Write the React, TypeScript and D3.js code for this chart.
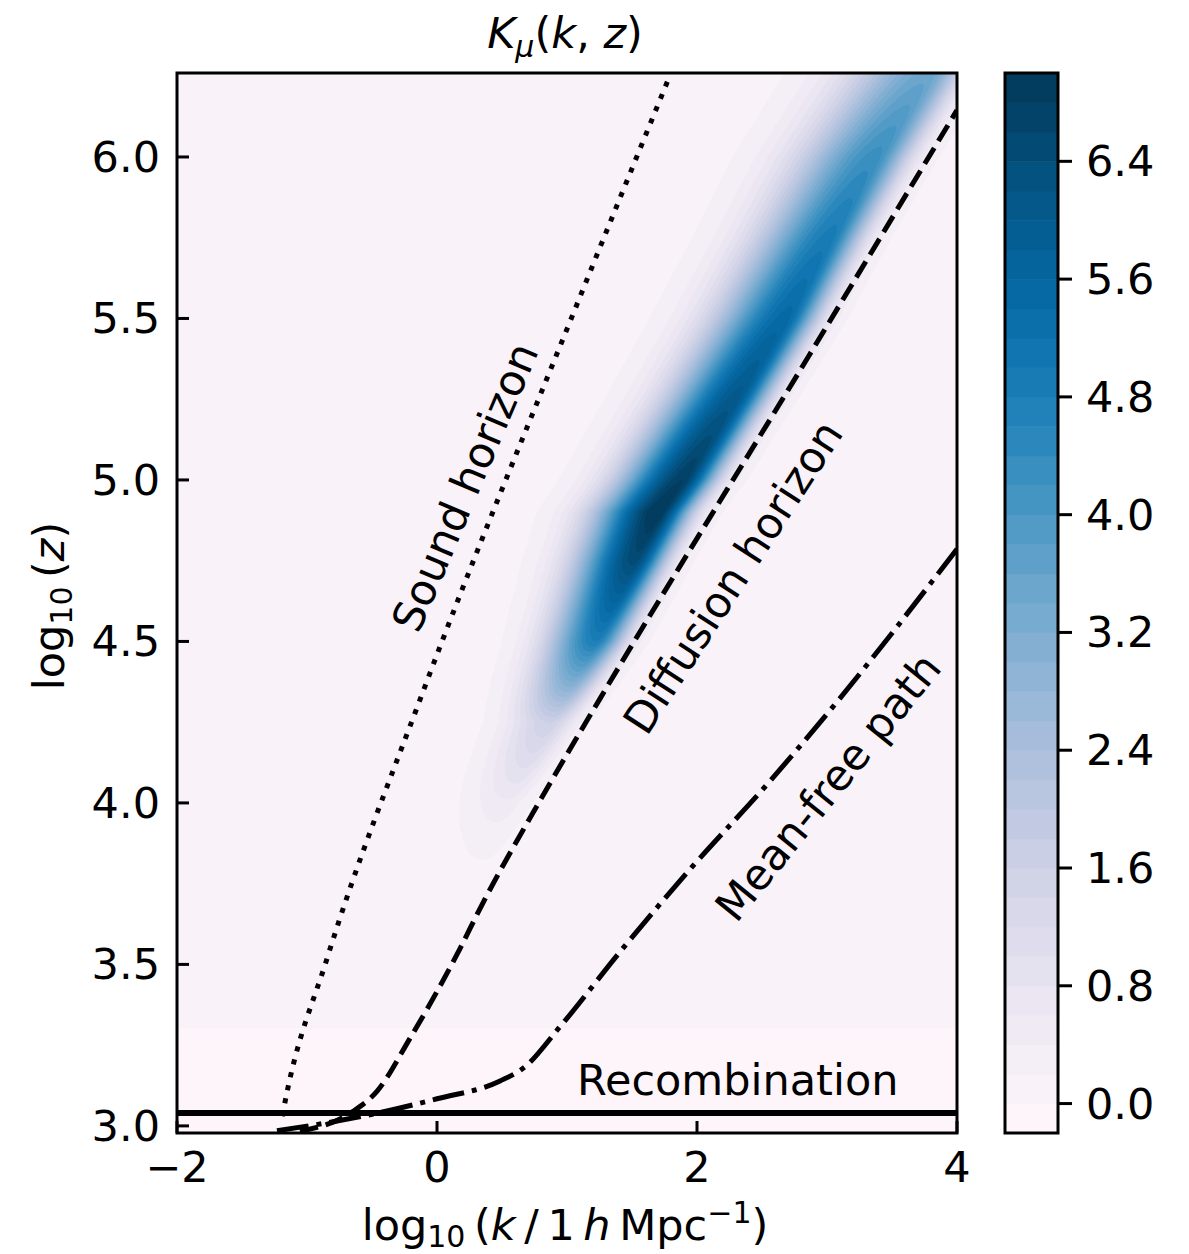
import { useMemo } from 'react';
import * as d3 from 'd3';

// ridge of K_mu(k, z), read along log10(z)
const ridgeZ = [3.75, 3.9, 4.0, 4.25, 4.5, 4.75, 4.9, 5.0, 5.25, 5.5, 5.75, 6.0, 6.26];
const ridgeK = [0.3, 0.42, 0.52, 0.87, 1.22, 1.52, 1.7, 1.89, 2.29, 2.68, 3.02, 3.37, 3.79];
const ridgePeak = [0.0, 0.2, 0.45, 1.5, 4.7, 6.4, 6.95, 6.7, 6.0, 5.4, 4.8, 4.2, 3.4];
const ridgeLeft = [0.18, 0.19, 0.2, 0.22, 0.26, 0.3, 0.32, 0.33, 0.35, 0.37, 0.38, 0.4, 0.42];
const ridgeRight = [0.12, 0.12, 0.12, 0.13, 0.15, 0.16, 0.17, 0.17, 0.17, 0.17, 0.17, 0.18, 0.18];
const bgAbove = 0.1;
const bgBelow = -0.1;
const negBelowZ = 3.3;
const recombZ = 3.04;

// horizons
const soundK = [-1.19, -1.169, -0.846, -0.108, 1.077, 1.777];
const soundZ = [3.03, 3.074, 3.518, 4.344, 5.544, 6.238];
const diffK = [-1.054, -0.646, -0.462, -0.208, 0.177, 0.331, 0.815, 1.254, 2.869, 4.0];
const diffZ = [2.983, 3.045, 3.107, 3.271, 3.549, 3.673, 4.023, 4.323, 5.39, 6.145];
const mfpK = [-1.231, -0.769, -0.385, 0.0, 0.485, 0.677, 0.946, 1.408, 1.969, 2.523, 3.077, 4.0];
const mfpZ = [2.985, 3.015, 3.046, 3.084, 3.139, 3.183, 3.307, 3.539, 3.805, 4.05, 4.313, 4.786];

const xTicks = [-2, 0, 2, 4];
const yTicks = [3.0, 3.5, 4.0, 4.5, 5.0, 5.5, 6.0];
const cbTicks = [0.0, 0.8, 1.6, 2.4, 3.2, 4.0, 4.8, 5.6, 6.4];
const levels = d3.range(37).map(i => +(-0.2 + 0.2 * i).toFixed(1));

const W = 1189, H = 1254;
const L = 177, R = 957, T = 73, B = 1133;
const CBL = 1005, CBR = 1058;
const FONT = 'DejaVu Sans';
const FS = 43;

export default function App() {
  const x = d3.scaleLinear().domain([-2, 4]).range([L, R]);
  const y = d3.scaleLinear().domain([2.978, 6.26]).range([B, T]);
  const cbY = d3.scaleLinear().domain([-0.2, 7.0]).range([B, T]);
  const lo = levels[0], hi = levels[levels.length - 1];
  const color = (i: number) => d3.interpolatePuBu(((levels[i] + levels[i + 1]) / 2 - lo) / (hi - lo));

  const bands = useMemo(() => {
    const nx = 260, ny = 354;
    const cw = (R - L) / nx, ch = (B - T) / ny;
    const cS = d3.scaleLinear().domain(ridgeZ).range(ridgeK).clamp(true);
    const pS = d3.scaleLinear().domain(ridgeZ).range(ridgePeak).clamp(true);
    const lS = d3.scaleLinear().domain(ridgeZ).range(ridgeLeft).clamp(true);
    const rS = d3.scaleLinear().domain(ridgeZ).range(ridgeRight).clamp(true);
    const values = new Float64Array(nx * ny);
    for (let j = 0; j < ny; j++) {
      const z = y.invert(T + (j + 0.5) * ch);
      const c = cS(z), p = pS(z), sl = lS(z), sr = rS(z);
      const bg = z < negBelowZ ? bgBelow : bgAbove;
      for (let i = 0; i < nx; i++) {
        const k = x.invert(L + (i + 0.5) * cw);
        const d = k - c;
        const s = d < 0 ? sl : sr;
        values[j * nx + i] = bg + p * Math.exp(-(d * d) / (2 * s * s));
      }
    }
    const contours = d3.contours().size([nx, ny]).thresholds(levels.slice(0, -1))(Array.from(values));
    const proj = d3.geoTransform({
      point(px: number, py: number) {
        (this as any).stream.point(L + px * cw, T + py * ch);
      },
    });
    const path = d3.geoPath(proj);
    return contours.map((c, i) => ({ d: path(c as any) || '', fill: color(i) }));
  }, []);

  const line = d3.line<[number, number]>().x(d => x(d[0])).y(d => y(d[1])).curve(d3.curveMonotoneX);
  const pts = (ks: number[], zs: number[]) => ks.map((k, i) => [k, zs[i]] as [number, number]);

  const it = { fontStyle: 'italic' } as const;

  return (
    <svg width={W} height={H} style={{ position: 'absolute', left: 0, top: 0, background: '#fff' }}
      fontFamily={FONT} fontSize={FS}>
      <defs>
        <clipPath id="plot-clip"><rect x={L} y={T} width={R - L} height={B - T} /></clipPath>
      </defs>

      <g clipPath="url(#plot-clip)">
        {bands.map((b, i) => <path key={i} d={b.d} fill={b.fill} stroke={b.fill} strokeWidth={0.4} />)}
        <path d={line(pts(soundK, soundZ)) || ''} fill="none" stroke="#000" strokeWidth={5} strokeDasharray="5 8.25" />
        <path d={line(pts(diffK, diffZ)) || ''} fill="none" stroke="#000" strokeWidth={5} strokeDasharray="18.5 8" />
        <path d={line(pts(mfpK, mfpZ)) || ''} fill="none" stroke="#000" strokeWidth={5} strokeDasharray="32 8 5 8" />
        <line x1={L} x2={R} y1={y(recombZ)} y2={y(recombZ)} stroke="#000" strokeWidth={6} />
      </g>

      <text x={577} y={1095}>Recombination</text>
      <text transform="translate(465,487) rotate(-67)" textAnchor="middle" dominantBaseline="central">Sound horizon</text>
      <text transform="translate(733,577) rotate(-57)" textAnchor="middle" dominantBaseline="central">Diffusion horizon</text>
      <text transform="translate(828,787) rotate(-51)" textAnchor="middle" dominantBaseline="central">Mean-free path</text>

      <rect x={L} y={T} width={R - L} height={B - T} fill="none" stroke="#000" strokeWidth={3} />

      {xTicks.map(t => (
        <g key={t}>
          <line x1={x(t)} x2={x(t)} y1={B} y2={B - 12} stroke="#000" strokeWidth={3} />
          <text x={x(t)} y={1182} textAnchor="middle">{d3.format('d')(t)}</text>
        </g>
      ))}
      {yTicks.map(t => (
        <g key={t}>
          <line x1={L} x2={L + 12} y1={y(t)} y2={y(t)} stroke="#000" strokeWidth={3} />
          <text x={160} y={y(t)} textAnchor="end" dominantBaseline="central">{d3.format('.1f')(t)}</text>
        </g>
      ))}

      <text x={565} y={48} textAnchor="middle">
        <tspan style={it}>K</tspan>
        <tspan style={it} fontSize={30} dy={9}>μ</tspan>
        <tspan dy={-9}>(</tspan>
        <tspan style={it}>k</tspan>
        <tspan>, </tspan>
        <tspan style={it}>z</tspan>
        <tspan>)</tspan>
      </text>

      <text transform="translate(64,606) rotate(-90)" textAnchor="middle">
        <tspan>log</tspan>
        <tspan fontSize={30} dy={8}>10</tspan>
        <tspan dy={-8}>{'\u2009('}</tspan>
        <tspan style={it}>z</tspan>
        <tspan>)</tspan>
      </text>

      <text x={565} y={1240} textAnchor="middle">
        <tspan>log</tspan>
        <tspan fontSize={30} dy={7}>10</tspan>
        <tspan dy={-7}>{'\u2009('}</tspan>
        <tspan style={it}>k</tspan>
        <tspan>{'\u2009/\u20091\u2009'}</tspan>
        <tspan style={it}>h</tspan>
        <tspan>{'\u2009Mpc'}</tspan>
        <tspan fontSize={30} dy={-17}>{'\u22121'}</tspan>
        <tspan dy={17}>)</tspan>
      </text>

      {levels.slice(0, -1).map((lv, i) => (
        <rect key={lv} x={CBL} width={CBR - CBL} y={cbY(levels[i + 1])} height={cbY(lv) - cbY(levels[i + 1]) + 0.5}
          fill={color(i)} />
      ))}
      <rect x={CBL} y={T} width={CBR - CBL} height={B - T} fill="none" stroke="#000" strokeWidth={3} />
      {cbTicks.map(t => (
        <g key={t}>
          <line x1={CBR} x2={CBR + 14} y1={cbY(t)} y2={cbY(t)} stroke="#000" strokeWidth={3} />
          <text x={1086} y={cbY(t)} dominantBaseline="central">{d3.format('.1f')(t)}</text>
        </g>
      ))}
    </svg>
  );
}
